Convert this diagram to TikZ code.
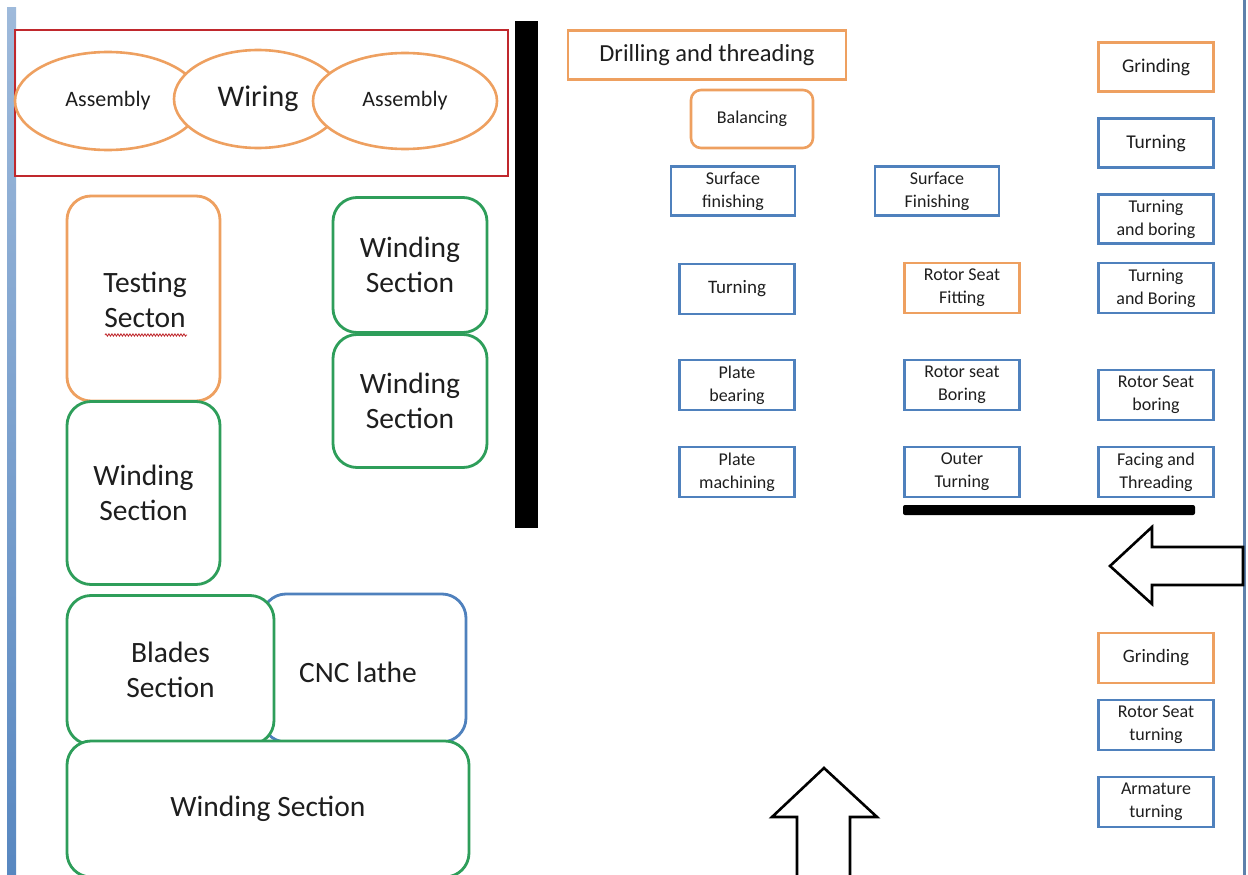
\documentclass[tikz,border=0pt]{standalone}
\usepackage{fontspec}
\setmainfont{Carlito}
\usetikzlibrary{shapes.geometric,decorations.pathmorphing}
\definecolor{orng}{HTML}{EEA060}
\definecolor{blu}{HTML}{4F81BD}
\definecolor{grn}{HTML}{2E9E5A}
\definecolor{redb}{HTML}{C0282D}
\definecolor{txt}{HTML}{1E1E1E}
\tikzset{
  base/.style={rectangle, fill=white, text=txt, align=center, inner sep=0pt},
  sbox/.style={base, line width=2.6pt, minimum width=115pt, minimum height=50pt,
    font=\fontsize{18}{23}\selectfont},
  sblue/.style={sbox, draw=blu},
  sorng/.style={sbox, draw=orng},
  bigbox/.style={base, line width=2.8pt, rounded corners=24pt,
    font=\fontsize{29.5}{35}\selectfont},
  bgrn/.style={bigbox, draw=grn},
  borng/.style={bigbox, draw=orng},
  bblu/.style={bigbox, draw=blu},
  ell/.style={ellipse, draw=orng, line width=2.6pt, fill=white, text=txt, inner sep=0pt},
  bararrow/.style={draw=black, line width=2.6pt, fill=white, line join=miter},
}
\begin{document}
\begin{tikzpicture}[x=1pt,y=-1pt]
\path[use as bounding box, fill=white] (0,0) rectangle (1248,875);
% page edges
\shade[top color=blu!55, bottom color=blu!95] (7,8) rectangle (16,875);
\fill[blu!70!gray] (1243,0) rectangle (1246,875);

% assembly area
\node[draw=redb, line width=2.6pt, minimum width=493pt, minimum height=146pt, inner sep=0pt] (area) at (261.5,103) {};
\node[ell, minimum width=186pt, minimum height=98pt, font=\fontsize{22}{26}\selectfont] (asm1) at (108,101) {Assembly};
\node[ell, minimum width=168pt, minimum height=98pt, font=\fontsize{30}{34}\selectfont] (wir) at (258,99) {Wiring};
\node[ell, minimum width=184pt, minimum height=96pt, font=\fontsize{22}{26}\selectfont] (asm2) at (405,101) {Assembly};

% black wall
\fill[black] (515,21) rectangle (538,528);

% left sections
\node[borng, minimum width=153pt, minimum height=205pt] (test) at (143.5,298.5) {};
\node[text=txt, align=center, font=\fontsize{29.5}{35}\selectfont] (testlbl) at (145,300) {Testing\\Secton};
\draw[redb, line width=0.8pt, decorate, decoration={snake, amplitude=1.2pt, segment length=3pt}] (105,335) -- (187,335);
\node[bgrn, minimum width=154pt, minimum height=135pt] (w1) at (410,265) {Winding\\Section};
\node[bgrn, minimum width=154pt, minimum height=133pt] (w2) at (410,401) {Winding\\Section};
\node[bgrn, minimum width=153pt, minimum height=183pt] (w3) at (143.5,493) {Winding\\Section};
\node[bblu, minimum width=204pt, minimum height=148pt] (cnc) at (364,668) {};
\node[text=txt, font=\fontsize{29.5}{35}\selectfont] (cnclbl) at (358,672) {CNC lathe};
\node[bgrn, minimum width=207pt, minimum height=149pt] (blades) at (170.5,670) {Blades\\Section};
\node[bgrn, minimum width=402pt, minimum height=136pt] (w4) at (268,809) {Winding Section};

% machining cells
\node[sorng, minimum width=278pt, minimum height=49pt, font=\fontsize{24.5}{28}\selectfont] (drill) at (707,55) {Drilling and threading};
\node[sorng, rounded corners=10pt, minimum width=122pt, minimum height=58pt] (bal) at (752,119) {Balancing};
\node[sblue, minimum width=124pt, minimum height=49pt] (sf1) at (733,191) {Surface\\finishing};
\node[sblue, minimum width=124pt, minimum height=49pt] (sf2) at (937,191) {Surface\\Finishing};
\node[sorng, minimum height=49pt, font=\fontsize{19.5}{23}\selectfont] (gr1) at (1156,67) {Grinding};
\node[sblue, minimum height=49pt, font=\fontsize{19.5}{23}\selectfont] (tu1) at (1156,143) {Turning};
\node[sblue, minimum height=49pt] (tab1) at (1156,219) {Turning\\and boring};
\node[sblue, font=\fontsize{19}{23}\selectfont] (tu2) at (737,289) {Turning};
\node[sorng] (rsf) at (962,288) {Rotor Seat\\Fitting};
\node[sblue] (tab2) at (1156,288) {Turning\\and Boring};
\node[sblue] (pb) at (737,385) {Plate\\bearing};
\node[sblue] (rsb1) at (962,385) {Rotor seat\\Boring};
\node[sblue] (rsb2) at (1156,395) {Rotor Seat\\boring};
\node[sblue] (pm) at (737,472) {Plate\\machining};
\node[sblue] (ot) at (962,472) {Outer\\Turning};
\node[sblue] (fat) at (1156,472) {Facing and\\Threading};
\node[sorng, font=\fontsize{19}{23}\selectfont] (gr2) at (1156,658) {Grinding};
\node[sblue] (rst) at (1156,725) {Rotor Seat\\turning};
\node[sblue] (arm) at (1156,802) {Armature\\turning};

% black wall under the cells
\fill[black, rounded corners=2pt] (903,505) rectangle (1195,515);

% flow arrows
\draw[bararrow] (1243,547) -- (1152,547) -- (1152,527) -- (1110,566) -- (1152,604) -- (1152,585) -- (1243,585) -- cycle;
\draw[bararrow] (797,877) -- (797,817) -- (772,817) -- (824,768) -- (877,817) -- (850,817) -- (850,877);
\end{tikzpicture}
\end{document}
